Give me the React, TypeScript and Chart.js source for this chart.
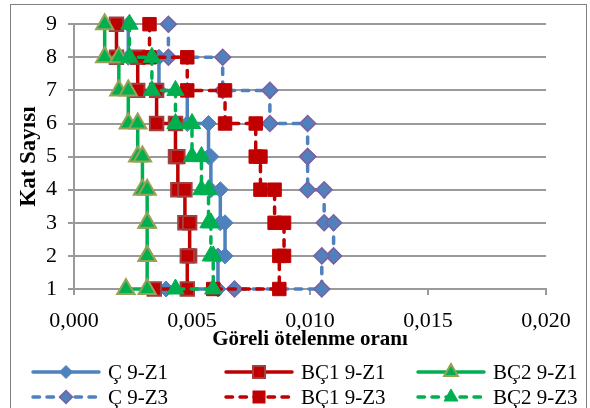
import React, { useEffect, useRef } from "react";
import { Chart, registerables } from "chart.js";

Chart.register(...registerables);

// ---- data ----
const STORIES = [9, 8, 7, 6, 5, 4, 3, 2, 1];
const X_TICKS = [0, 0.005, 0.01, 0.015, 0.02];
const SERIES_NAMES = ["Ç 9-Z1", "BÇ1 9-Z1", "BÇ2 9-Z1", "Ç 9-Z3", "BÇ1 9-Z3", "BÇ2 9-Z3"];
// drift per story, listed from story 9 down to story 1
const C_Z1 = [0.0023, 0.0036, 0.0048, 0.0057, 0.0058, 0.0062, 0.0064, 0.0061, 0.0039];
const BC1_Z1 = [0.0018, 0.0027, 0.0035, 0.0043, 0.0044, 0.0047, 0.0049, 0.0048, 0.0034];
const BC2_Z1 = [0.0013, 0.0019, 0.0023, 0.0027, 0.0029, 0.0031, 0.0031, 0.0031, 0.0022];
const C_Z3 = [0.004, 0.0063, 0.0083, 0.0099, 0.0099, 0.0106, 0.011, 0.0105, 0.0068];
const BC1_Z3 = [0.0032, 0.0048, 0.0064, 0.0077, 0.0079, 0.0085, 0.0089, 0.0087, 0.0059];
const BC2_Z3 = [0.00235, 0.0033, 0.0043, 0.005, 0.0054, 0.0057, 0.0058, 0.0059, 0.0043];
const SERIES_VALUES = [C_Z1, BC1_Z1, BC2_Z1, C_Z3, BC1_Z3, BC2_Z3];

// ---- styles ----
const FONT = "'Liberation Serif', 'Times New Roman', serif";
const GRID = "#9a9a9a";
const BLUE = "#4F81BD";
const RED = "#C00000";
const GREEN = "#00B050";
const DASH = [6.5, 7.5];

type Style = {
  color: string;
  dash: number[];
  point: "rectRot" | "rect" | "triangle";
  radius: number;
  fill: string;
  border: string;
  borderWidth: number;
};

const STYLES: Style[] = [
  { color: BLUE, dash: [], point: "rectRot", radius: 8, fill: BLUE, border: BLUE, borderWidth: 1 },
  { color: RED, dash: [], point: "rect", radius: 9.5, fill: RED, border: "#A04040", borderWidth: 2 },
  { color: GREEN, dash: [], point: "triangle", radius: 10, fill: GREEN, border: "#98A256", borderWidth: 2 },
  { color: BLUE, dash: DASH, point: "rectRot", radius: 8, fill: BLUE, border: "#7E5FA0", borderWidth: 1.5 },
  { color: RED, dash: DASH, point: "rect", radius: 9.5, fill: RED, border: RED, borderWidth: 1 },
  { color: GREEN, dash: DASH, point: "triangle", radius: 10, fill: GREEN, border: GREEN, borderWidth: 1 },
];

function stepProfile(values: number[]) {
  const pts: { x: number; y: number }[] = [];
  values.forEach((v, i) => {
    pts.push({ x: v, y: STORIES[i] });
    if (i < STORIES.length - 1) pts.push({ x: v, y: STORIES[i + 1] });
  });
  return pts;
}

function LegendMarker({ s }: { s: Style }) {
  const cx = 35;
  const cy = 12;
  let marker: React.ReactNode = null;
  if (s.point === "rectRot") {
    const r = 6.5;
    marker = (
      <polygon
        points={`${cx - r},${cy} ${cx},${cy - r} ${cx + r},${cy} ${cx},${cy + r}`}
        fill={s.fill}
        stroke={s.border}
        strokeWidth={s.borderWidth}
      />
    );
  } else if (s.point === "rect") {
    const h = 6;
    marker = (
      <rect x={cx - h} y={cy - h} width={2 * h} height={2 * h} fill={s.fill} stroke={s.border} strokeWidth={s.borderWidth} />
    );
  } else {
    const r = 8;
    marker = (
      <polygon
        points={`${cx},${cy - r} ${cx + 0.866 * r},${cy + 0.5 * r} ${cx - 0.866 * r},${cy + 0.5 * r}`}
        fill={s.fill}
        stroke={s.border}
        strokeWidth={s.borderWidth}
      />
    );
  }
  return (
    <svg width={70} height={24} style={{ position: "absolute", left: 0, top: 0, overflow: "visible" }}>
      <line
        x1={2}
        y1={cy}
        x2={68}
        y2={cy}
        stroke={s.color}
        strokeWidth={3.5}
        strokeLinecap="round"
        strokeDasharray={s.dash.length ? s.dash.join(" ") : undefined}
      />
      {marker}
    </svg>
  );
}

const LEGEND_COLS = [31, 224, 416];
const LEGEND_ROWS = [372, 397];

export default function App() {
  const canvasRef = useRef<HTMLCanvasElement | null>(null);

  useEffect(() => {
    const canvas = canvasRef.current;
    if (!canvas) return;
    const n = SERIES_NAMES.length;
    const chart = new Chart(canvas, {
      type: "line",
      data: {
        datasets: SERIES_NAMES.map((name, i) => {
          const s = STYLES[i];
          return {
            label: name,
            data: stepProfile(SERIES_VALUES[i]),
            borderColor: s.color,
            backgroundColor: s.fill,
            borderWidth: 3.5,
            borderDash: s.dash,
            borderCapStyle: s.dash.length ? "round" : "butt",
            borderJoinStyle: "round",
            pointStyle: s.point,
            pointRadius: s.radius,
            pointBackgroundColor: s.fill,
            pointBorderColor: s.border,
            pointBorderWidth: s.borderWidth,
            tension: 0,
            fill: false,
            clip: false,
            order: n - 1 - i,
          } as any;
        }),
      },
      options: {
        animation: false,
        responsive: false,
        maintainAspectRatio: false,
        events: [],
        layout: { padding: { left: 0, right: 44, top: 24, bottom: 55 } },
        plugins: {
          legend: { display: false },
          tooltip: { enabled: false },
        },
        scales: {
          x: {
            type: "linear",
            min: X_TICKS[0],
            max: X_TICKS[X_TICKS.length - 1],
            afterBuildTicks: (scale: any) => {
              scale.ticks = X_TICKS.map((v) => ({ value: v }));
            },
            ticks: {
              callback: (v: any) => Number(v).toFixed(3).replace(".", ","),
              font: { family: FONT, size: 22 },
              color: "#000",
              padding: 13,
              maxRotation: 0,
              autoSkip: false,
            },
            grid: { drawOnChartArea: false, drawTicks: true, tickLength: 6, color: GRID, lineWidth: 2 },
            border: { display: true, color: GRID, width: 2 },
            title: {
              display: true,
              text: "Göreli ötelenme oranı",
              font: { family: FONT, size: 21, weight: "bold" },
              color: "#000",
              padding: { top: 0, bottom: 1 },
            },
            afterFit: (scale: any) => {
              scale.height = 64;
            },
          },
          y: {
            type: "linear",
            min: STORIES[STORIES.length - 1],
            max: STORIES[0],
            afterBuildTicks: (scale: any) => {
              scale.ticks = [...STORIES].reverse().map((v) => ({ value: v }));
            },
            ticks: {
              font: { family: FONT, size: 22 },
              color: "#000",
              padding: 11,
              autoSkip: false,
            },
            grid: { color: GRID, lineWidth: 2, drawTicks: true, tickLength: 6 },
            border: { display: true, color: GRID, width: 2 },
            title: {
              display: true,
              text: "Kat Sayısı",
              font: { family: FONT, size: 23, weight: "bold" },
              color: "#000",
              padding: { top: 15, bottom: 0 },
            },
            afterFit: (scale: any) => {
              scale.width = 74;
            },
          },
        },
      } as any,
    });
    return () => chart.destroy();
  }, []);

  return (
    <div
      style={{
        position: "fixed",
        left: 0,
        top: 0,
        width: 590,
        height: 408,
        overflow: "hidden",
        background: "#fff",
        fontFamily: FONT,
      }}
    >
      <div
        style={{
          position: "absolute",
          left: 10,
          top: 4,
          width: 577,
          height: 430,
          border: "1px solid #808080",
          boxSizing: "border-box",
        }}
      />
      <canvas ref={canvasRef} width={590} height={408} style={{ position: "absolute", left: 0, top: 0, width: 590, height: 408 }} />
      {SERIES_NAMES.map((name, i) => {
        const col = i % 3;
        const row = Math.floor(i / 3);
        return (
          <div
            key={name}
            style={{
              position: "absolute",
              left: LEGEND_COLS[col],
              top: LEGEND_ROWS[row] - 12,
              height: 24,
              width: 190,
            }}
          >
            <LegendMarker s={STYLES[i]} />
            <span
              style={{
                position: "absolute",
                left: 77,
                top: 0,
                lineHeight: "24px",
                fontSize: 21,
                color: "#000",
                whiteSpace: "nowrap",
              }}
            >
              {name}
            </span>
          </div>
        );
      })}
    </div>
  );
}
